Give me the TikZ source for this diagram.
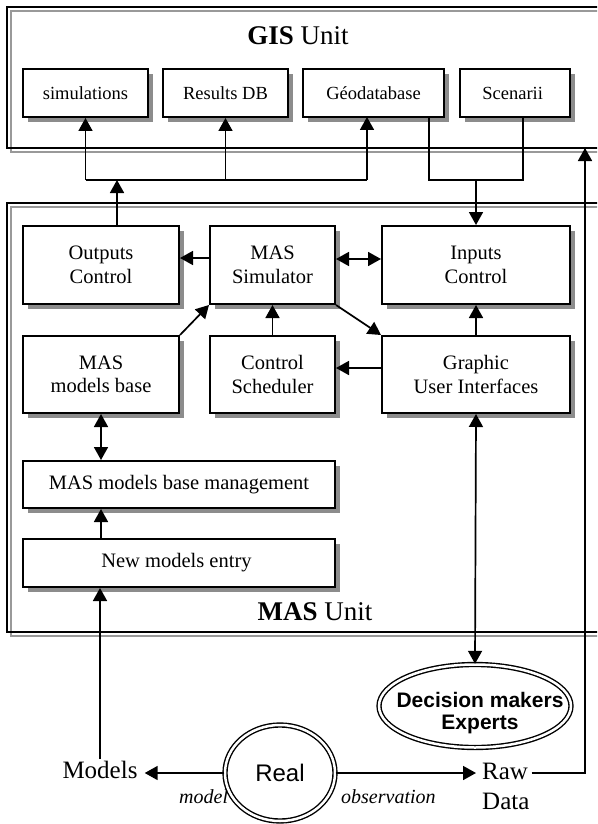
\documentclass[tikz,border=0pt]{standalone}
\usepackage{fontspec}
\setmainfont{Liberation Serif}
\newfontfamily\arialfont{Liberation Sans}
\usetikzlibrary{arrows.meta,shadows,shapes.geometric}

\tikzset{
    frameline/.style={line width=2pt},
    framecopy/.style={line width=2pt, gray!80},
    unittitle/.style={font=\fontsize{27}{29}\selectfont},
    unitbox/.style={draw, line width=2pt, fill=white, align=center,
        font=\fontsize{20.5}{23.5}\selectfont,
        drop shadow={shadow xshift=5pt, shadow yshift=-5pt, fill=gray!90, opacity=1}},
    tablebox/.style={unitbox, font=\fontsize{18.5}{22}\selectfont},
    wire/.style={line width=1.7pt},
    link/.style={line width=1.7pt, -{Triangle[length=13pt,width=14pt]}},
    dlink/.style={line width=1.7pt, {Triangle[length=13pt,width=14pt]}-{Triangle[length=13pt,width=14pt]}},
    ringnode/.style={ellipse, draw, double, double distance=2.5pt, line width=1.4pt, fill=white},
    bottomlabel/.style={font=\fontsize{25}{30}\selectfont, inner sep=2pt},
    edgetext/.style={font=\itshape\fontsize{20}{22}\selectfont, inner sep=2pt}
}

\begin{document}
\begin{tikzpicture}[x=1pt,y=-1pt]
    \useasboundingbox (0,0) rectangle (597,824);
    \clip (0,0) rectangle (597,824);

    % Draw the two unit frames (grey copy behind the black one)
    \draw[framecopy] (11,11) rectangle (615,152);
    \draw[frameline] (7,7) rectangle (611,148);
    \draw[framecopy] (11,207) rectangle (615,636);
    \draw[frameline] (7,203) rectangle (611,632);

    \node[unittitle] (gistitle) at (298,36) {\textbf{GIS} Unit};
    \node[unittitle] (mastitle) at (315,612) {\textbf{MAS} Unit};

    % GIS tables
    \foreach \name/\x/\w/\label in {
        simtab/85.5/125/simulations,
        resdb/225.5/125/Results DB,
        geodb/373.5/141/Géodatabase,
        scen/515/110/Scenarii
    } {
        \node[tablebox, minimum width=\w pt, minimum height=48pt] (\name) at (\x,93) {\label};
    }

    % MAS modules
    \foreach \name/\x/\y/\w/\h/\label in {
        outctrl/101/265/156/78/Outputs\\Control,
        simulator/272.5/265/125/78/MAS\\Simulator,
        inctrl/476/265/188/78/Inputs\\Control,
        mbase/101/374.5/156/77/MAS\\models base,
        sched/272.5/374.5/125/77/Control\\Scheduler,
        gui/476/374.5/188/77/Graphic\\User Interfaces,
        mgmt/179/484.5/312/47/MAS models base management,
        entry/179/563/312/48/New models entry
    } {
        \node[unitbox, minimum width=\w pt, minimum height=\h pt] (\name) at (\x,\y) {\label};
    }

    % Outside world
    \node[ringnode, minimum width=192pt, minimum height=83pt] (dec) at (475,706) {};
    \node[font=\arialfont\bfseries\fontsize{21}{22}\selectfont, align=center] (dectext) at (480,713) {Decision makers\\Experts};

    \node[bottomlabel] (models) at (100,770) {Models};
    \node[bottomlabel, align=left, anchor=west] (raw) at (480,786) {Raw\\Data};
    \node[edgetext, anchor=west] (modeltext) at (177,797) {model};
    \node[edgetext, anchor=west] (obstext) at (339,797) {observation};
    \node[ringnode, minimum width=110pt, minimum height=96pt,
          font=\arialfont\fontsize{24}{26}\selectfont] (real) at (280,773) {Real};

    % Bus between the units
    \coordinate (bus) at (117,180);
    \coordinate (feed) at (476,180);
    \coordinate (geoin) at (367,117);
    \coordinate (geoout) at (429,117);
    \coordinate (scenout) at (523,117);
    \coordinate (gisin) at (585,148);

    \draw[link] ([xshift=16pt]outctrl.north) -- (bus);
    \draw[wire] (simtab.south |- bus) -- (geoin |- bus);
    \draw[link] (simtab.south |- bus) -- (simtab.south);
    \draw[link] (resdb.south |- bus) -- (resdb.south);
    \draw[link] (geoin |- bus) -- (geoin);
    \draw[wire] (geoout) |- (scenout |- feed) -- (scenout);
    \draw[link] (feed) -- (inctrl.north);

    % Links inside the MAS unit
    \draw[link] ([yshift=7pt]simulator.west) -- ([yshift=7pt]outctrl.east);
    \draw[dlink] ([yshift=6pt]simulator.east) -- ([yshift=6pt]inctrl.west);
    \draw[link] (mbase.north east) -- (simulator.south west);
    \draw[link] (sched.north) -- (simulator.south);
    \draw[link] (simulator.south east) -- (gui.north west);
    \draw[link] ([yshift=6.5pt]gui.west) -- ([yshift=6.5pt]sched.east);
    \draw[link] (gui.north) -- (inctrl.south);
    \draw[dlink] (mbase.south) -- (mbase.south |- mgmt.north);
    \draw[link] (mbase.south |- entry.north) -- (mbase.south |- mgmt.south);

    % Links to the outside
    \draw[link] (models.north) -- (models.north |- entry.south);
    \draw[dlink] (gui.south) -- (dec.north);
    \draw[link, shorten >=5pt] (real.west) -- (models.east |- real);
    \draw[link, shorten >=4pt] (real.east) -- (raw.west |- real);
    \draw[wire] (raw.east |- real) -| (gisin);
    \draw[link] (gisin |- real) -- (gisin);
\end{tikzpicture}
\end{document}
